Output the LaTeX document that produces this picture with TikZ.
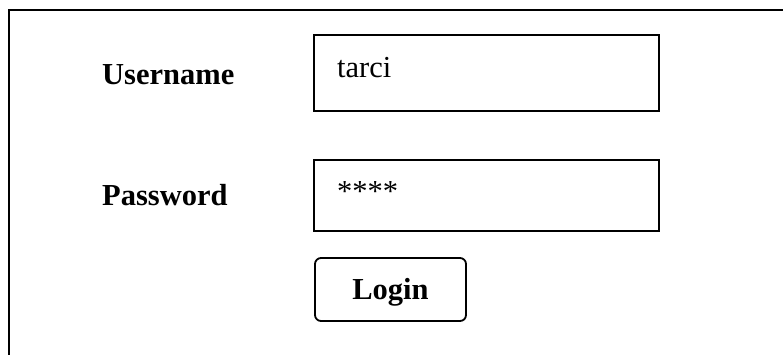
\documentclass[tikz,border=0pt]{standalone}
\usepackage{fontspec}
\setmainfont{Liberation Serif}
\usetikzlibrary{positioning}
\newcommand\uisize{\fontsize{30.5}{36}\selectfont}
\tikzset{
  field/.style={draw, line width=1.8pt, minimum width=345pt, inner sep=0pt},
  button/.style={draw, line width=1.8pt, rounded corners=6pt, minimum width=151pt,
    minimum height=63pt, inner sep=0pt, font=\uisize\bfseries, text height=21pt, text depth=2pt},
  caption/.style={anchor=base west, inner sep=0pt, font=\uisize\bfseries},
  entry/.style={anchor=base west, inner sep=0pt, font=\uisize}
}
\begin{document}
\begin{tikzpicture}[x=1pt, y=-1pt]
  \useasboundingbox (0,0) rectangle (783,354);
  % outer frame
  \coordinate (fbot) at (9,356);
  \coordinate (fcorner) at (9,10);
  \coordinate (fright) at (785,10);
  \draw[line width=2.2pt] (fbot) -- (fcorner) -- (fright);
  % input fields
  \node[field, minimum height=76pt] (userbox) at (486.5,73) {};
  \node[field, minimum height=71pt] (passbox) at (486.5,195.5) {};
  \node[button] (login) at (390.5,289.5) {Login};
  % labels
  \node[caption] (user) at (102,84) {Username};
  \node[caption] (pass) at (102,205) {Password};
  \node[entry] (name) at (337,77) {tarci};
  \node[entry] (stars) at (337,201) {****};
\end{tikzpicture}
\end{document}
